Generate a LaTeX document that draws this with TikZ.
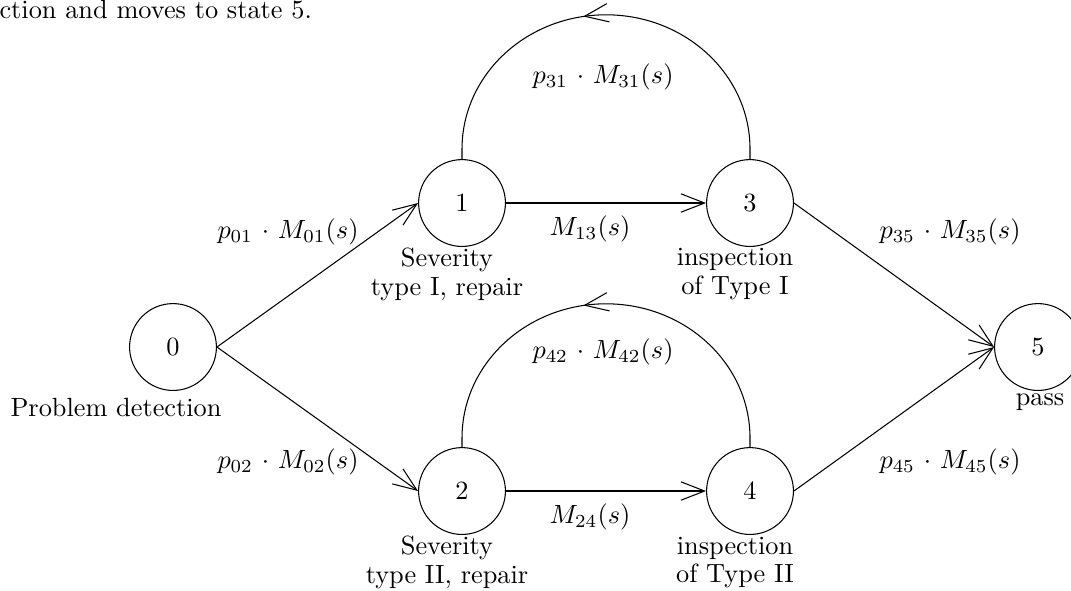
\documentclass[tikz,border=0pt]{standalone}
\usetikzlibrary{arrows.meta,decorations.markings}
\begin{document}
\begin{tikzpicture}[x=0.38pt,y=-0.38pt,
  state/.style={draw,circle,line width=0.4pt,minimum size=33pt,inner sep=0pt,font=\fontsize{10}{11}\selectfont},
  lbl/.style={align=center,inner sep=0pt,font=\fontsize{10}{11}\selectfont},
  elbl/.style={inner sep=0pt,font=\fontsize{10}{11}\selectfont},
  arr/.style={line width=0.4pt,-{Straight Barb[length=9pt,width=7pt]}},
  loop/.style={line width=0.4pt,postaction={decorate},
    decoration={markings,mark=at position 0.55 with {\arrow{Straight Barb[length=9pt,width=7pt]}}}}
]
\useasboundingbox (0,0) rectangle (1071,590);
\node[elbl,anchor=west] (top) at (-1,10) {ction and moves to state 5.};
\node[state] (n0) at (173,347) {0};
\node[state] (n1) at (462,203) {1};
\node[state] (n2) at (462,491) {2};
\node[state] (n3) at (750,203) {3};
\node[state] (n4) at (750,491) {4};
\node[state] (n5) at (1038,347) {5};
\node[lbl] (l0) at (116,407) {Problem detection};
\node[lbl] (l1) at (447,274.5) {Severity\\type I, repair};
\node[lbl] (l2) at (447,562.5) {Severity\\type II, repair};
\node[lbl] (l3) at (735,274.5) {inspection\\of Type I};
\node[lbl] (l4) at (735,562.5) {inspection\\of Type II};
\node[lbl] (l5) at (1040,402) {pass};
\draw[arr] (n0.east) -- (n1.west);
\draw[arr] (n0.east) -- (n2.west);
\draw[arr] (n1.east) -- (n3.west);
\draw[arr] (n2.east) -- (n4.west);
\draw[arr] (n3.east) -- (n5.west);
\draw[arr] (n4.east) -- (n5.west);
\coordinate (a3) at (750,149);
\coordinate (a1) at (462,149);
\coordinate (a4) at (750,438);
\coordinate (a2) at (462,438);
\draw[loop] (n3.north) -- (a3) arc[start angle=0,end angle=180,x radius=54.72pt,y radius=51pt] -- (n1.north);
\draw[loop] (n4.north) -- (a4) arc[start angle=0,end angle=180,x radius=54.72pt,y radius=51pt] -- (n2.north);
\node[elbl] (e01) at (288,232) {$p_{01}$ $\cdot$ $M_{01}(s)$};
\node[elbl] (e02) at (288,462) {$p_{02}$ $\cdot$ $M_{02}(s)$};
\node[elbl] (e13) at (590,229) {$M_{13}(s)$};
\node[elbl] (e24) at (590,517) {$M_{24}(s)$};
\node[elbl] (e35) at (950,232) {$p_{35}$ $\cdot$ $M_{35}(s)$};
\node[elbl] (e45) at (950,462) {$p_{45}$ $\cdot$ $M_{45}(s)$};
\node[elbl] (e31) at (603,77) {$p_{31}$ $\cdot$ $M_{31}(s)$};
\node[elbl] (e42) at (603,352) {$p_{42}$ $\cdot$ $M_{42}(s)$};
\end{tikzpicture}
\end{document}
